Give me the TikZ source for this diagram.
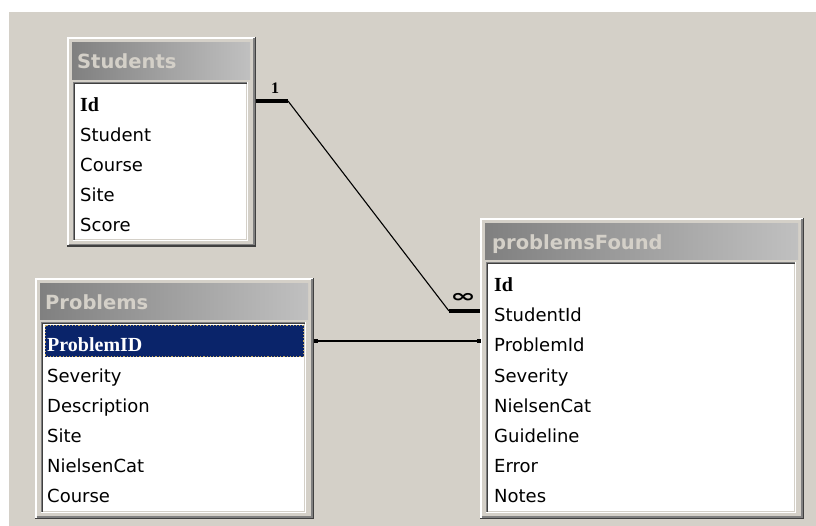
\documentclass[tikz,border=0pt]{standalone}
\usepackage{fontspec}
\newfontfamily\ui{DejaVu Sans}
\newfontfamily\keyf{Liberation Serif}
\usetikzlibrary{calc}
\definecolor{bg}{RGB}{212,208,200}
\definecolor{navy}{RGB}{10,36,106}
\definecolor{dk}{RGB}{64,64,64}
\definecolor{md}{RGB}{128,128,128}
\definecolor{lt}{RGB}{192,192,192}
\definecolor{focus}{RGB}{200,170,90}
\newcommand\winframe[5]{%
  \fill[bg] (#1,#2) rectangle (#3,#4);
  \draw[white,line width=2pt] (#1+1,#4-1) -- (#1+1,#2+1) -- (#3-1,#2+1);
  \draw[dk,line width=1.5pt] (#1,#4-0.75) -- (#3-0.75,#4-0.75) -- (#3-0.75,#2);
  \draw[md,line width=1.5pt] (#1+1.5,#4-2.25) -- (#3-2.25,#4-2.25) -- (#3-2.25,#2+1.5);
  \shade[left color=md,right color=lt] (#1+5,#2+6) rectangle (#3-6,#5);
  \fill[white] (#1+6,#5+2) rectangle (#3-8,#4-6);
  \draw[md,line width=1pt] (#1+6.5,#4-6) -- (#1+6.5,#5+2.5) -- (#3-8,#5+2.5);
  \draw[dk,line width=1pt] (#1+7.5,#4-7) -- (#1+7.5,#5+3.5) -- (#3-9,#5+3.5);
  \draw[white,line width=1pt] (#1+6,#4-6.5) -- (#3-8.5,#4-6.5) -- (#3-8.5,#5+2);
  \draw[bg,line width=1pt] (#1+8,#4-7.5) -- (#3-9.5,#4-7.5) -- (#3-9.5,#5+4);
}
\tikzset{
  ttl/.style={anchor=base west,inner sep=0pt,text=bg,font=\ui\bfseries\fontsize{19.5}{21}\selectfont},
  fld/.style={anchor=base west,inner sep=0pt,text=black,font=\ui\fontsize{18}{20}\selectfont},
  keyfld/.style={anchor=base west,inner sep=0pt,text=black,font=\keyf\bfseries\fontsize{20}{22}\selectfont},
  card/.style={inner sep=0pt,text=black},
  thickend/.style={line width=3.5pt,black},
  thinlink/.style={line width=1.1pt,black},
}
\begin{document}
\begin{tikzpicture}[x=1pt,y=-1pt]
\useasboundingbox (0,0) rectangle (816,526);
\fill[white] (0,0) rectangle (816,526);
\fill[bg] (9,12) rectangle (816,526);

% Students
\winframe{67}{37}{256}{247}{80}
\node[ttl] (stT) at (77,69) {Students};
\node[keyfld] (stId) at (80,112) {Id};
\node[fld] (stStudent) at (80,142) {Student};
\node[fld] (stCourse) at (80,172) {Course};
\node[fld] (stSite) at (80,202) {Site};
\node[fld] (stScore) at (80,232) {Score};

% Problems
\winframe{35}{278}{314}{519}{320}
\node[ttl] (prT) at (45,310) {Problems};
\fill[navy] (45,325) rectangle (304,357);
\draw[focus,dotted,line width=1.2pt] (45.5,325.5) rectangle (303.5,356.5);
\node[keyfld,text=white] (prId) at (47,352) {ProblemID};
\node[fld] (prSev) at (47,382) {Severity};
\node[fld] (prDesc) at (47,412) {Description};
\node[fld] (prSite) at (47,442) {Site};
\node[fld] (prNc) at (47,472) {NielsenCat};
\node[fld] (prCourse) at (47,502) {Course};

% problemsFound
\winframe{480}{218}{804}{519}{260}
\node[ttl] (pfT) at (492,250) {problemsFound};
\node[keyfld] (pfId) at (494,292) {Id};
\node[fld] (pfSid) at (494,322) {StudentId};
\node[fld] (pfPid) at (494,352) {ProblemId};
\node[fld] (pfSev) at (494,382) {Severity};
\node[fld] (pfNc) at (494,412) {NielsenCat};
\node[fld] (pfGl) at (494,442) {Guideline};
\node[fld] (pfErr) at (494,472) {Error};
\node[fld] (pfNotes) at (494,502) {Notes};

% Students -> problemsFound (1 to many)
\coordinate (s1) at (256,101);
\coordinate (k1) at (288,101);
\coordinate (k2) at (449,311);
\coordinate (p1) at (480,311);
\draw[thickend] (s1) -- (k1);
\draw[thinlink] (k1) -- (k2);
\draw[thickend] (k2) -- (p1);
\node[card,font=\keyf\bfseries\fontsize{16}{16}\selectfont] (one) at (275,88) {1};
\node[card,font=\ui\bfseries\fontsize{18}{18}\selectfont] (many) at (463,298) {\scalebox{1.7}[1]{∞}};

% Problems -> problemsFound
\coordinate (q1) at (316,341);
\coordinate (q2) at (479,341);
\draw[line width=1.3pt,black] (q1) -- (q2);
\fill[black] ($(q1)+(-2,-2)$) rectangle ($(q1)+(2,2)$);
\fill[black] ($(q2)+(-2,-2)$) rectangle ($(q2)+(2,2)$);
\end{tikzpicture}
\end{document}
